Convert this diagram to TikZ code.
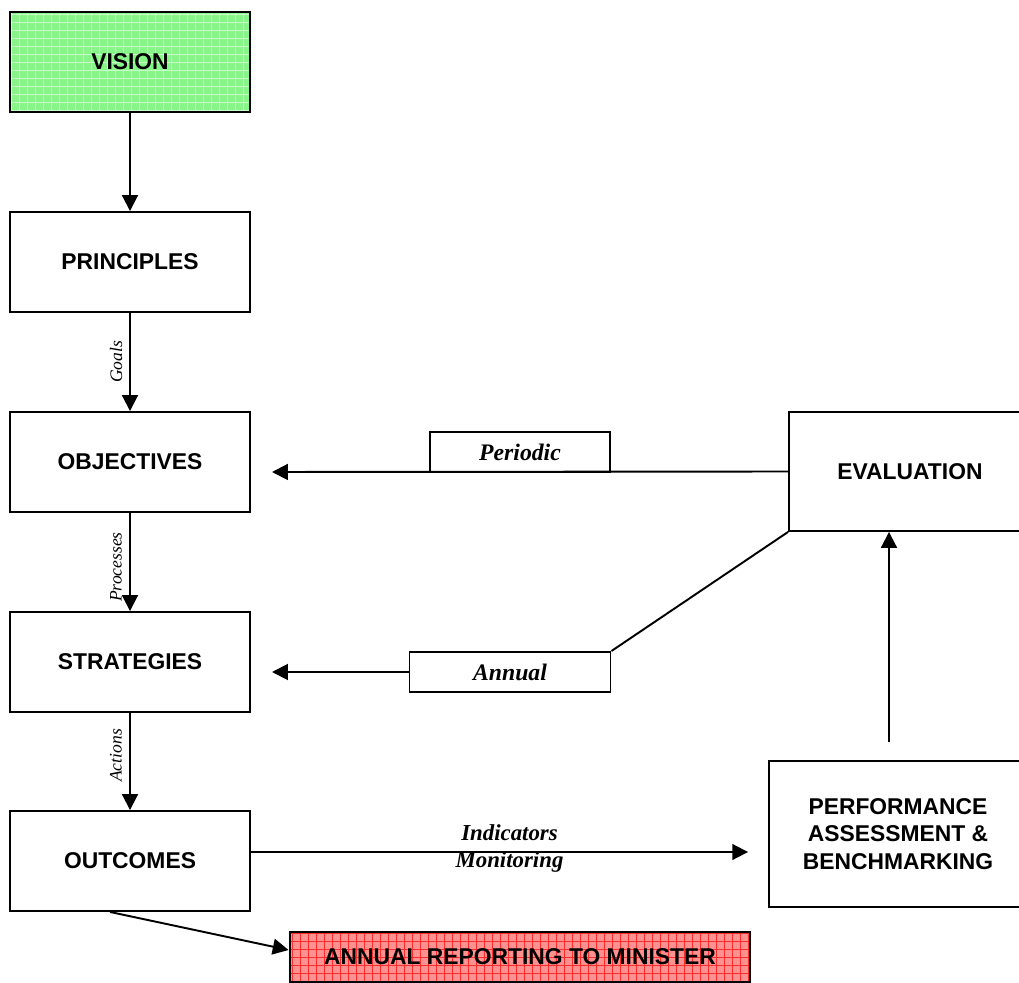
\documentclass[tikz,border=0pt]{standalone}
\usepackage{fontspec}
\setmainfont{Liberation Serif}
\setsansfont{Liberation Sans}
\usetikzlibrary{arrows.meta}
\definecolor{visiongreen}{RGB}{135,245,135}
\definecolor{reportred}{RGB}{255,145,145}
\begin{document}
\begin{tikzpicture}[x=0.02cm, y=-0.02cm, line width=1.1pt,
      >={Triangle[width=9pt,length=9pt]},
      box/.style={draw, line width=1.1pt, align=center, inner sep=2pt,
        font=\sffamily\bfseries\fontsize{13}{15.5}\selectfont},
      stage/.style={box, minimum width=4.8cm, minimum height=2cm},
      tag/.style={box, font=\rmfamily\bfseries\itshape\fontsize{13.5}{15}\selectfont, minimum height=0.8cm},
      lbl/.style={font=\rmfamily\itshape\fontsize{10}{12}\selectfont, rotate=90, inner sep=0pt, yshift=0.28cm},
      flow/.style={font=\rmfamily\bfseries\itshape\fontsize{13}{15}\selectfont, inner sep=0pt},
      gridfill/.style={path picture={\draw[#1, line width=0.4pt, step=0.16cm]
        (path picture bounding box.south west) grid (path picture bounding box.north east);}}]
    \useasboundingbox (0,0) rectangle (1019,983);
    % left column
    \node[stage, fill=visiongreen, gridfill=white!55!visiongreen] (vis) at (130,62) {VISION};
    \node[stage] (princ) at (130,262) {PRINCIPLES};
    \node[stage] (obj)   at (130,462) {OBJECTIVES};
    \node[stage] (strat) at (130,662) {STRATEGIES};
    \node[stage] (outc)  at (130,861) {OUTCOMES};
    % right side
    \node[box, minimum width=4.84cm, minimum height=2.38cm] (eval) at (910,471.5) {EVALUATION};
    \node[box, minimum width=5.16cm, minimum height=2.92cm] (perf) at (898,834) {PERFORMANCE\\ASSESSMENT \&\\BENCHMARKING};
    \node[box, fill=reportred, gridfill=red!70!reportred, minimum width=9.22cm, minimum height=1cm] (rep) at (520,957) {ANNUAL REPORTING TO MINISTER};
    \node[tag, minimum width=3.6cm]  (per) at (520,452) {Periodic};
    \node[tag, minimum width=4.02cm] (ann) at (510,672) {Annual};
    \coordinate (objtip) at (272,472);
    \coordinate (strtip) at (272,672);
    \coordinate (pfup) at (889,742);
    % connectors
    \draw[->] (vis) -- (princ);
    \draw[->] (princ) -- node[lbl] {Goals} (obj);
    \draw[->] (obj) -- node[lbl, xshift=-0.1cm] {Processes} (strat);
    \draw[->] (strat) -- node[lbl, xshift=0.12cm] {Actions} (outc);
    \draw[->] (eval.west) -- (objtip);
    \draw[->] (ann.west) -- (strtip);
    \draw (ann.north east) -- (eval.south west);
    \draw[->, shorten >=0.4cm] ([yshift=0.18cm]outc.east) -- node[flow, yshift=0.38cm] {Indicators}
      node[flow, yshift=-0.2cm] {Monitoring} ([yshift=0.18cm]perf.west |- outc.east);
    \draw[->] (pfup) -- (pfup |- eval.south);
    \draw[->] ([xshift=-0.4cm]outc.south) -- ([yshift=0.14cm]rep.west);
  \end{tikzpicture}
\end{document}
